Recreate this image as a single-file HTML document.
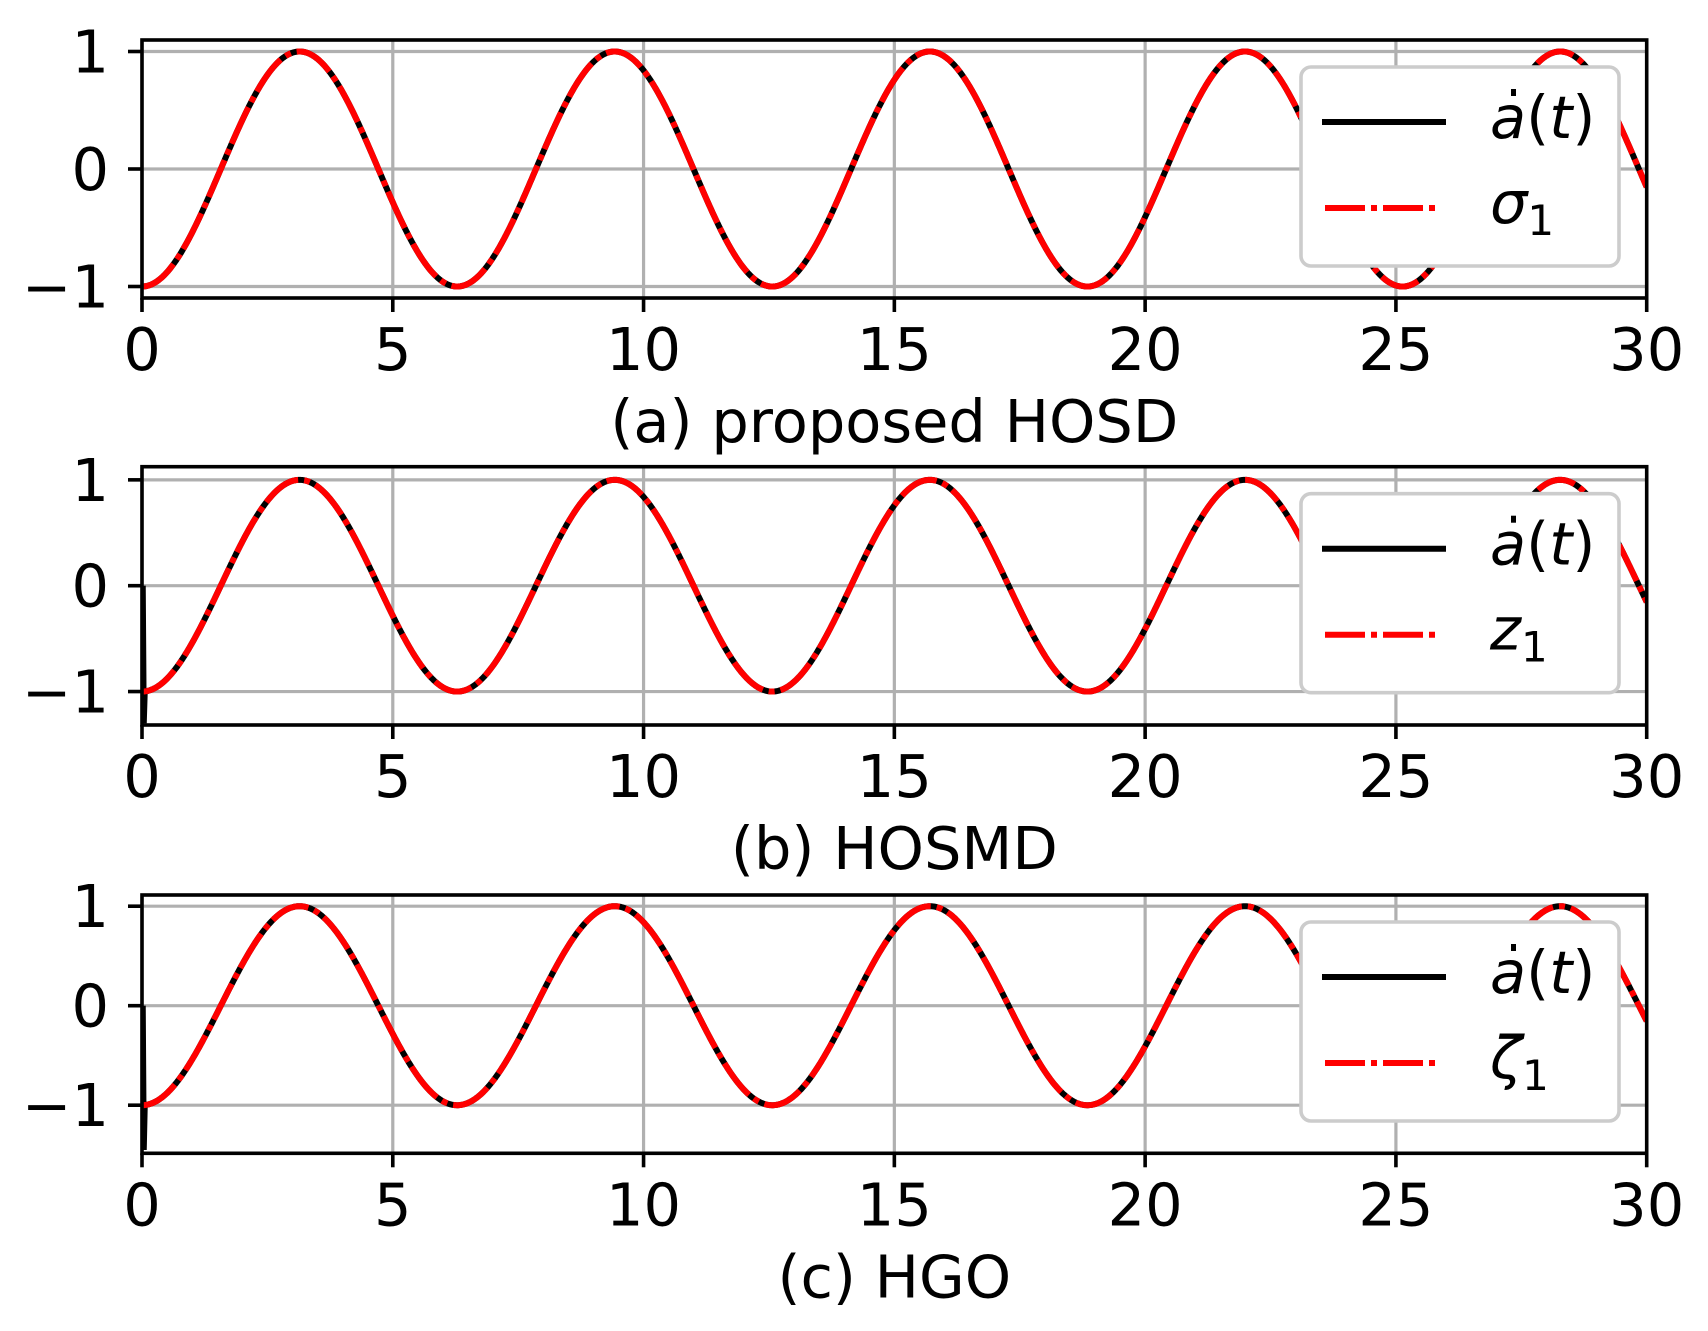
<!DOCTYPE html>
<html><head><meta charset="utf-8"><style>
html,body{margin:0;padding:0;background:#fff;}
svg{display:block;font-family:"DejaVu Sans","Liberation Sans",sans-serif;}
</style></head><body>
<svg id="s" width="1708" height="1331" viewBox="0 0 1708 1331" xmlns="http://www.w3.org/2000/svg"></svg>
<script>
const s=document.getElementById('s');
const X0=142,X1=1646.7;
const axes=[
 {top:40,bot:298,y1:51,y0:169,ym:286,title:"(a) proposed HOSD",lab:"σ",spike:false},
 {top:466.7,bot:725,y1:480,y0:585.7,ym:691.7,title:"(b) HOSMD",lab:"z",spike:true,sp:0.3},
 {top:895,bot:1153.3,y1:906.7,y0:1005.7,ym:1105.7,title:"(c) HGO",lab:"ζ",spike:true,sp:0.45}
];
let h='';
const xs=t=>X0+(X1-X0)*t/30;
axes.forEach(a=>{
 const u=(a.ym-a.y1)/2;
 const ys=v=>a.y0-v*u;
 for(let k=0;k<=6;k++){const x=xs(k*5);h+=`<line x1="${x}" y1="${a.top}" x2="${x}" y2="${a.bot}" stroke="#b0b0b0" stroke-width="3.2"/>`;}
 [1,0,-1].forEach(v=>{h+=`<line x1="${X0}" y1="${ys(v)}" x2="${X1}" y2="${ys(v)}" stroke="#b0b0b0" stroke-width="3.2"/>`;});
 let d='';
 for(let i=0;i<=1500;i++){const t=30*i/1500;d+=(i?'L':'M')+xs(t).toFixed(2)+','+ys(-Math.cos(t)).toFixed(2);}
 let clip=`c${a.top|0}`;
 h+=`<clipPath id="${clip}"><rect x="${X0}" y="${a.top}" width="${X1-X0}" height="${a.bot-a.top}"/></clipPath>`;
 h+=`<g clip-path="url(#${clip})">`;
 if(a.spike){h+=`<path d="M${X0+1.5},${a.y0} L${X0+2.5},${ys(-1-a.sp)} L${X0+3.5},${ys(-1)}" stroke="#000" stroke-width="4.5" fill="none"/>`;}
 h+=`<path d="${d}" stroke="#000" stroke-width="6" fill="none"/>`;
 h+=`<path d="${d}" stroke="#f00" stroke-width="6" fill="none" stroke-dasharray="40 6 6 6"/>`;
 h+=`</g>`;
 h+=`<rect x="${X0}" y="${a.top}" width="${X1-X0}" height="${a.bot-a.top}" fill="none" stroke="#000" stroke-width="3.6"/>`;
 for(let k=0;k<=6;k++){const x=xs(k*5);h+=`<line x1="${x}" y1="${a.bot}" x2="${x}" y2="${a.bot+14}" stroke="#000" stroke-width="3.6"/>`;
  h+=`<text x="${x}" y="${a.bot+72}" font-size="59" text-anchor="middle">${k*5}</text>`;}
 [[1,"1"],[0,"0"],[-1,"−1"]].forEach(([v,l])=>{const y=ys(v);h+=`<line x1="${X0-14}" y1="${y}" x2="${X0}" y2="${y}" stroke="#000" stroke-width="3.6"/>`;
  h+=`<text x="109" y="${y+21}" font-size="59" text-anchor="end">${l}</text>`;});
 h+=`<text x="${(X0+X1)/2}" y="${a.bot+144}" font-size="59" text-anchor="middle">${a.title}</text>`;
 const lt=a.top+27;
 h+=`<rect x="1301" y="${lt}" width="318" height="199" rx="10" fill="#fff" stroke="#cccccc" stroke-width="3.6"/>`;
 h+=`<line x1="1322" y1="${lt+55}" x2="1446" y2="${lt+55}" stroke="#000" stroke-width="6"/>`;
 h+=`<line x1="1325" y1="${lt+141}" x2="1440" y2="${lt+141}" stroke="#f00" stroke-width="6" stroke-dasharray="40 6 6 6"/>`;
 h+=`<text x="1490" y="${lt+71}" font-size="59"><tspan font-style="italic">a</tspan><tspan>(</tspan><tspan font-style="italic">t</tspan><tspan>)</tspan></text>`;
 h+=`<rect x="1511" y="${lt+22}" width="5" height="7" fill="#000"/>`;
 h+=`<text x="1490" y="${lt+156}" font-size="59"><tspan font-style="italic">${a.lab}</tspan><tspan font-size="42" dy="12">1</tspan></text>`;
});
s.innerHTML=h;
</script>
</body></html>
